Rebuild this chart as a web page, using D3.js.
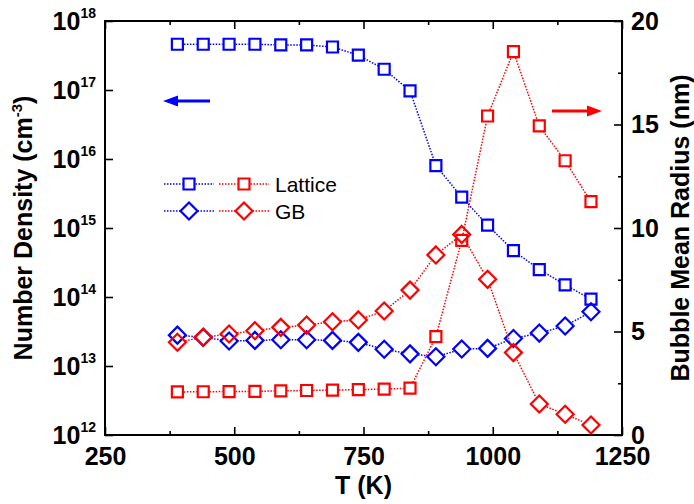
<!DOCTYPE html>
<html>
<head>
<meta charset="utf-8">
<script src="https://cdn.jsdelivr.net/npm/d3@7"></script>
<style>
  body { margin: 0; background: #fff; }
  text { font-family: Arial, "Liberation Sans", sans-serif; }
</style>
</head>
<body>
<div id="chart"></div>
<script>
// temperatures (K)
var temps = [390, 440, 490, 540, 590, 640, 690, 740, 790, 840, 890, 940, 990, 1040, 1090, 1140, 1190];
// number density (cm^-3), left axis
var latticeDensity = [4.6e17, 4.6e17, 4.6e17, 4.6e17, 4.5e17, 4.5e17, 4.2e17, 3.2e17, 2.0e17, 9.7e16, 8.0e15, 2.8e15, 1.1e15, 4.7e14, 2.5e14, 1.5e14, 9.3e13];
var gbDensity = [2.8e13, 2.6e13, 2.3e13, 2.35e13, 2.4e13, 2.4e13, 2.35e13, 2.2e13, 1.75e13, 1.5e13, 1.36e13, 1.76e13, 1.8e13, 2.5e13, 3.0e13, 3.8e13, 6.1e13];
// bubble mean radius (nm), right axis
var latticeRadius = [2.08, 2.09, 2.1, 2.11, 2.13, 2.15, 2.17, 2.19, 2.22, 2.26, 4.75, 9.4, 15.41, 18.52, 14.93, 13.25, 11.27];
var gbRadius = [4.48, 4.72, 4.88, 5.04, 5.2, 5.31, 5.47, 5.56, 5.99, 7.0, 8.7, 9.69, 7.52, 3.98, 1.5, 1.0, 0.48];

var xTicks = [250, 500, 750, 1000, 1250];
var xMinor = [375, 625, 875, 1125];
var leftTicks = [1e12, 1e13, 1e14, 1e15, 1e16, 1e17, 1e18];
var rightTicks = [0, 5, 10, 15, 20];
var rightMinor = [2.5, 7.5, 12.5, 17.5];

var w = 694, h = 504;
var pL = 105, pR = 622, pT = 21, pB = 435;   // plot frame

var svg = d3.select("#chart").append("svg")
  .attr("width", w)
  .attr("height", h);

var xScale = d3.scaleLinear().domain([250, 1250]).range([pL, pR]);
var yLeft = d3.scaleLog().domain([1e12, 1e18]).range([pB, pT]);
var yRight = d3.scaleLinear().domain([0, 20]).range([pB, pT]);

var BLUE = "#0000ff", RED = "#ff0000";

// ---- axes (ticks point inward)
function styleAxis(g) {
  g.select(".domain").remove();
  g.selectAll("line").attr("stroke", "#000").attr("stroke-width", 1.6);
  g.selectAll("text").attr("font-size", 25).attr("font-weight", "bold").attr("fill", "#000")
    .attr("font-family", "Arial, 'Liberation Sans', sans-serif");
}

svg.append("g").attr("transform", "translate(0," + pB + ")")
  .call(d3.axisBottom(xScale).tickValues(xTicks).tickSize(-8).tickPadding(12).tickFormat(d3.format("d")))
  .call(styleAxis);
svg.append("g").attr("transform", "translate(0," + pB + ")")
  .call(d3.axisBottom(xScale).tickValues(xMinor).tickSize(-4).tickFormat(""))
  .call(styleAxis);
svg.append("g").attr("transform", "translate(0," + pT + ")")
  .call(d3.axisTop(xScale).tickValues(xTicks).tickSize(-8).tickFormat(""))
  .call(styleAxis);
svg.append("g").attr("transform", "translate(0," + pT + ")")
  .call(d3.axisTop(xScale).tickValues(xMinor).tickSize(-4).tickFormat(""))
  .call(styleAxis);

svg.append("g").attr("transform", "translate(" + pL + ",0)")
  .call(d3.axisLeft(yLeft).tickValues(leftTicks).tickSize(-8).tickFormat(""))
  .call(styleAxis);

svg.append("g").attr("transform", "translate(" + pR + ",0)")
  .call(d3.axisRight(yRight).tickValues(rightTicks).tickSize(-8).tickPadding(9).tickFormat(d3.format("d")))
  .call(styleAxis);
svg.append("g").attr("transform", "translate(" + pR + ",0)")
  .call(d3.axisRight(yRight).tickValues(rightMinor).tickSize(-4).tickFormat(""))
  .call(styleAxis);

// log labels 10^n
var lbl = svg.append("g").selectAll("text")
  .data(leftTicks)
  .enter()
  .append("text")
  .attr("x", pL - 9)
  .attr("y", function (d) { return yLeft(d) + 9; })
  .attr("text-anchor", "end")
  .attr("font-weight", "bold")
  .attr("font-size", 25);
lbl.append("tspan").text("10");
lbl.append("tspan")
  .attr("dy", -12)
  .attr("font-size", 14)
  .text(function (d) { return Math.round(Math.log10(d)); });

// frame
svg.append("rect")
  .attr("x", pL).attr("y", pT)
  .attr("width", pR - pL).attr("height", pB - pT)
  .attr("fill", "none").attr("stroke", "#000").attr("stroke-width", 2);

// axis titles
svg.append("text")
  .attr("x", (pL + pR) / 2)
  .attr("y", 494)
  .attr("text-anchor", "middle")
  .attr("font-size", 25).attr("font-weight", "bold")
  .text("T (K)");

var lt = svg.append("text")
  .attr("transform", "translate(32,228) rotate(-90)")
  .attr("text-anchor", "middle")
  .attr("font-size", 25).attr("font-weight", "bold");
lt.append("tspan").text("Number Density (cm");
lt.append("tspan").attr("dy", -10).attr("font-size", 15).text("-3");
lt.append("tspan").attr("dy", 10).text(")");

svg.append("text")
  .attr("transform", "translate(689,228) rotate(-90)")
  .attr("text-anchor", "middle")
  .attr("font-size", 25).attr("font-weight", "bold")
  .text("Bubble Mean Radius (nm)");

// ---- series
function squarePath(cx, cy) {
  var s = 5.5;
  return "M" + (cx - s) + "," + (cy - s) + "h" + (2 * s) + "v" + (2 * s) + "h" + (-2 * s) + "Z";
}
function diamondPath(cx, cy) {
  var s = 8.5;
  return "M" + cx + "," + (cy - s) + "L" + (cx + s) + "," + cy + "L" + cx + "," + (cy + s) + "L" + (cx - s) + "," + cy + "Z";
}

function drawSeries(values, yScale, color, shape) {
  var pts = values.map(function (v, i) { return [xScale(temps[i]), yScale(v)]; });
  var gap = shape == "square" ? 6.5 : 8;
  var g = svg.append("g");
  // dotted connecting segments, stopping at marker edges
  for (var i = 0; i < pts.length - 1; i++) {
    var a = pts[i], b = pts[i + 1];
    var dx = b[0] - a[0], dy = b[1] - a[1];
    var len = Math.sqrt(dx * dx + dy * dy);
    if (len <= 2 * gap) continue;
    var ux = dx / len, uy = dy / len;
    g.append("line")
      .attr("x1", a[0] + ux * gap).attr("y1", a[1] + uy * gap)
      .attr("x2", b[0] - ux * gap).attr("y2", b[1] - uy * gap)
      .attr("stroke", color)
      .attr("stroke-width", 1.5)
      .attr("stroke-dasharray", "1.5,1.5");
  }
  g.selectAll("path")
    .data(pts)
    .enter()
    .append("path")
    .attr("d", function (d) { return shape == "square" ? squarePath(d[0], d[1]) : diamondPath(d[0], d[1]); })
    .attr("fill", "none")
    .attr("stroke", color)
    .attr("stroke-width", 2.2);
}

drawSeries(latticeDensity, yLeft, BLUE, "square");
drawSeries(gbDensity, yLeft, BLUE, "diamond");
drawSeries(latticeRadius, yRight, RED, "square");
drawSeries(gbRadius, yRight, RED, "diamond");

// ---- legend
var legendRows = [{label: "Lattice", shape: "square", y: 184}, {label: "GB", shape: "diamond", y: 211}];
legendRows.forEach(function (row) {
  [[BLUE, 189], [RED, 244]].forEach(function (c) {
    var gap = row.shape == "square" ? 6.5 : 8.5;
    svg.append("line")
      .attr("x1", c[1] - 25).attr("x2", c[1] - gap)
      .attr("y1", row.y).attr("y2", row.y)
      .attr("stroke", c[0]).attr("stroke-width", 1.5).attr("stroke-dasharray", "1.5,1.5");
    svg.append("line")
      .attr("x1", c[1] + gap).attr("x2", c[1] + 25)
      .attr("y1", row.y).attr("y2", row.y)
      .attr("stroke", c[0]).attr("stroke-width", 1.5).attr("stroke-dasharray", "1.5,1.5");
    svg.append("path")
      .attr("d", row.shape == "square" ? squarePath(c[1], row.y) : diamondPath(c[1], row.y))
      .attr("fill", "none").attr("stroke", c[0]).attr("stroke-width", 2.2);
  });
  svg.append("text")
    .attr("x", 275).attr("y", row.y + 8)
    .attr("font-size", 21)
    .text(row.label);
});

// ---- arrows pointing to each axis
svg.append("line").attr("x1", 174).attr("x2", 210).attr("y1", 101).attr("y2", 101)
  .attr("stroke", BLUE).attr("stroke-width", 3);
svg.append("path").attr("d", "M163,101 L178,95.5 L178,106.5 Z").attr("fill", BLUE);
svg.append("line").attr("x1", 552).attr("x2", 590).attr("y1", 111).attr("y2", 111)
  .attr("stroke", RED).attr("stroke-width", 3);
svg.append("path").attr("d", "M602,111 L587,105.5 L587,116.5 Z").attr("fill", RED);
</script>
</body>
</html>
